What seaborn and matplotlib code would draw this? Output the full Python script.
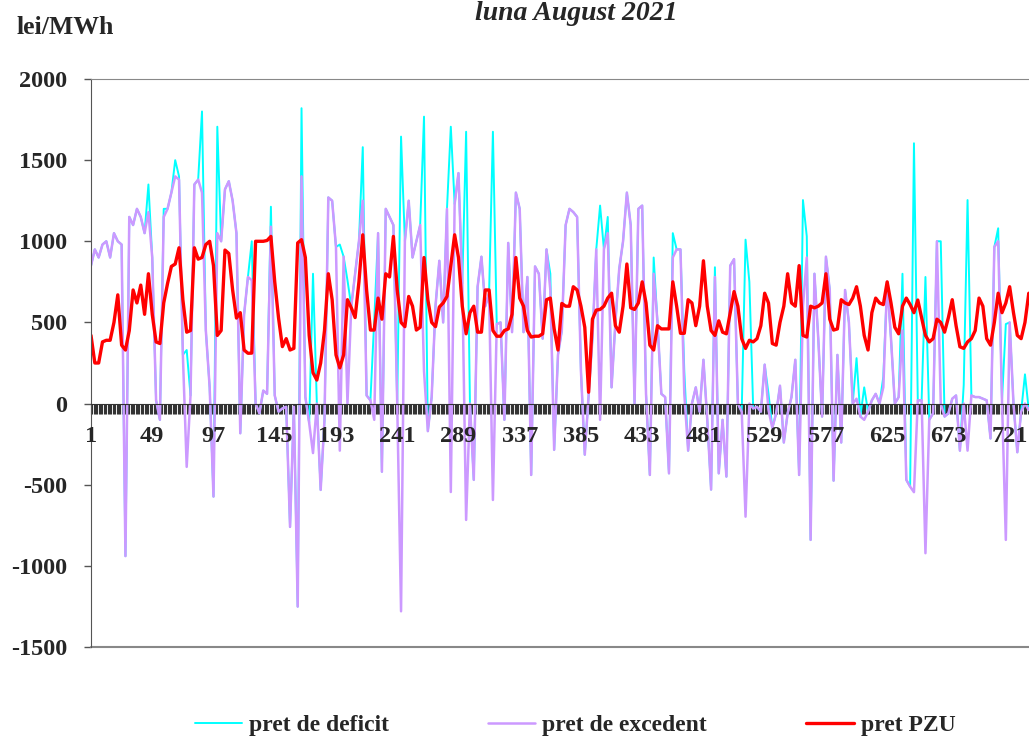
import numpy as np
import pandas as pd
import matplotlib
matplotlib.use("Agg")
import matplotlib.pyplot as plt
import seaborn as sns

# values read every 3 hours (8 per day, 31 days)
pret_pzu = [
    420, 250, 250, 380, 390, 390, 500, 670,
    360, 330, 450, 700, 620, 730, 550, 800,
    550, 380, 370, 620, 740, 845, 860, 960,
    640, 440, 450, 960, 890, 900, 980, 1000,
    850, 420, 450, 946, 925, 700, 527, 560,
    330, 310, 311, 1000, 1000, 1000, 1005, 1030,
    750, 527, 351, 400, 330, 340, 990, 1010,
    900, 420, 190, 145, 250, 450, 800, 640,
    300, 220, 300, 640, 590, 530, 750, 1040,
    700, 453, 453, 650, 520, 800, 780, 1030,
    700, 500, 474, 660, 600, 453, 470, 900,
    640, 500, 474, 595, 620, 660, 850, 1040,
    900, 600, 430, 560, 600, 440, 440, 700,
    700, 450, 415, 415, 450, 460, 550, 900,
    650, 600, 450, 410, 415, 415, 430, 640,
    650, 460, 330, 617, 600, 600, 720, 700,
    600, 470, 70, 520, 576, 580, 600, 650,
    680, 480, 440, 600, 860, 590, 580, 620,
    750, 620, 360, 330, 480, 460, 460, 460,
    750, 600, 433, 433, 640, 620, 480, 600,
    880, 600, 450, 420, 510, 440, 430, 560,
    690, 600, 400, 340, 390, 380, 400, 480,
    680, 620, 370, 360, 500, 600, 800, 620,
    600, 850, 420, 410, 600, 590, 600, 620,
    800, 520, 453, 460, 640, 620, 610, 650,
    720, 600, 420, 330, 560, 650, 620, 610,
    750, 620, 470, 430, 600, 650, 610, 560,
    638, 530, 420, 380, 400, 520, 500, 440,
    530, 640, 480, 350, 340, 380, 400, 450,
    650, 600, 400, 360, 500, 680, 560, 620,
    720, 560, 420, 400, 500, 680, 600, 550,
]

pret_excedent = [
    850, 950, 900, 980, 1000, 900, 1050, 1000,
    980, -940, 1150, 1100, 1200, 1150, 1050, 1180,
    900, 20, -100, 1150, 1200, 1300, 1400, 1380,
    300, -390, 50, 1350, 1380, 1300, 450, 100,
    -573, 1050, 1000, 1320, 1370, 1250, 1050, -183,
    550, 780, 760, 0, -60, 80, 60, 1090,
    50, -50, -30, -20, -760, -20, -1251, 1400,
    40, -120, -305, 0, -532, -100, 1270, 1250,
    965, -290, 905, 0, 600, 800, 1000, 1250,
    50, 20, -100, 1050, -420, 1200, 1150, 1100,
    0, -1280, 1000, 1250, 900, 1000, 1100, 200,
    -170, 40, 600, 880, 500, 1200, -545, 1230,
    1420, 740, -717, 0, -470, 720, 905, 600,
    680, -594, 490, 500, -100, 990, 440, 1300,
    1200, 440, 780, -440, 845, 800, 400, 950,
    700, -285, 300, 450, 1100, 1200, 1180, 1150,
    200, -315, 50, 400, 950, -100, 950, 1050,
    100, 500, 830, 1000, 1300, 1100, 0, 1200,
    1220, 60, -440, 800, 500, 60, 40, -430,
    900, 950, 950, 60, -290, 0, 100, -50,
    270, -100, -530, 780, -430, -100, -450, 850,
    890, 0, -50, -697, 0, -30, -20, -50,
    240, -40, -150, -60, 110, -240, -60, 40,
    270, -440, 600, 900, -840, 800, 400, -80,
    905, 700, -475, 300, -240, 700, 500, 0,
    30, -80, -100, -50, 20, 60, 0, 100,
    750, 400, 0, 40, 450, -470, -512, -546,
    20, 20, -922, -100, -60, 1000, 0, -80,
    -60, 30, 50, -290, 0, -290, 50, 40,
    40, 30, 20, -215, 965, 1000, 20, -840,
    500, 0, -300, -50, 0, -40, 0, 0,
]

pret_deficit = [
    850, 950, 900, 980, 1000, 900, 1050, 1000,
    980, -940, 1150, 1100, 1200, 1150, 1050, 1350,
    900, 20, -100, 1200, 1200, 1300, 1500, 1400,
    300, 330, 50, 1350, 1380, 1800, 450, 100,
    -573, 1706, 1000, 1320, 1370, 1250, 1050, -183,
    550, 780, 1000, 0, -60, 80, 60, 1213,
    50, -50, -30, -20, -760, -20, -1251, 1820,
    40, -120, 800, 0, -532, -100, 1270, 1250,
    965, 980, 905, 760, 600, 800, 1000, 1580,
    50, 20, 515, 1050, -420, 1200, 1150, 1100,
    0, 1645, 1000, 1250, 900, 1000, 1100, 1768,
    -170, 40, 600, 880, 500, 1200, 1706, 1230,
    1420, 740, 1675, 0, -470, 720, 905, 600,
    680, 1675, 490, 500, -100, 990, 440, 1300,
    1200, 440, 780, -440, 845, 800, 400, 950,
    800, -285, 300, 450, 1100, 1200, 1180, 1150,
    200, -315, 50, 400, 950, 1220, 950, 1150,
    100, 500, 830, 1000, 1300, 1100, 0, 1200,
    1220, 60, -440, 900, 500, 60, 40, -430,
    1050, 950, 950, 200, -290, 0, 100, -50,
    270, -100, -530, 840, -430, -100, -450, 850,
    890, 0, -50, 1010, 750, -30, -20, -50,
    240, 60, -150, -60, 110, -240, -60, 40,
    270, -440, 1254, 1030, -840, 800, 400, -80,
    905, 700, -475, 300, -240, 700, 500, 0,
    280, -80, 100, -50, 20, 60, 0, 166,
    750, 400, 0, 40, 800, -470, -512, 1604,
    20, 20, 780, -100, -60, 1000, 1000, -80,
    -60, 30, 50, -290, 115, 1254, 50, 40,
    40, 30, 20, -215, 965, 1080, 20, 490,
    500, 0, -300, -50, 180, -40, 0, 0,
]

ore = np.arange(1, 745, 3)
etichete_ore = list(range(1, 722, 48))

df = pd.DataFrame({
    "ora": ore,
    "pret de deficit": pret_deficit,
    "pret de excedent": pret_excedent,
    "pret PZU": pret_pzu,
})

sns.set_style("white")
plt.rcParams['font.family'] = ['Liberation Serif', 'DejaVu Serif']
plt.rcParams['font.weight'] = 'bold'

fig = plt.figure(figsize=(10.29, 7.38), dpi=100)
ax = fig.add_axes([91 / 1029, 91 / 738, 948 / 1029, 568 / 738])

sns.lineplot(data=df, x="ora", y="pret de deficit", color="#00FFFF", lw=1.4,
             label="pret de deficit", ax=ax)
sns.lineplot(data=df, x="ora", y="pret de excedent", color="#CC99FF", lw=1.8,
             label="pret de excedent", ax=ax)
sns.lineplot(data=df, x="ora", y="pret PZU", color="#FF0000", lw=2.4,
             label="pret PZU", ax=ax)

ax.set_xlim(1, 744)
ax.set_ylim(-1500, 2000)
ax.set_xlabel("")
ax.set_ylabel("")

# axa x trece prin zero, cu cate o gradatie pe ora
ax.spines['bottom'].set_position(('data', 0))
ax.spines['bottom'].set_color('#333333')
ax.spines['left'].set_color('#555555')
ax.spines['top'].set_color('#888888')
ax.spines['right'].set_visible(False)
ax.axhline(-1500, color='#888888', lw=1.5, clip_on=False)

ax.set_xticks(etichete_ore)
ax.set_xticks(range(1, 745), minor=True)
ax.set_xticklabels([])
ax.tick_params(axis='x', which='both', direction='out', length=7, width=0.8,
               color='#333333', bottom=True)
# etichetele orelor deasupra liniilor
for h in etichete_ore:
    ax.annotate(str(h), xy=(h, 0), xytext=(0, -28), textcoords='offset points',
                ha='center', va='baseline', fontsize=17.5, fontweight='bold',
                zorder=5, annotation_clip=False)

ax.set_yticks(range(-1500, 2001, 500))
ax.set_yticklabels([str(v) for v in range(-1500, 2001, 500)], fontsize=17.5, fontweight='bold')
ax.tick_params(axis='y', direction='out', length=5, width=1, color='#555555', pad=12, left=True)

ax.get_legend().remove()
handles, labels = ax.get_legend_handles_labels()
fig.legend(handles, labels, loc='center', bbox_to_anchor=(575 / 1029, 13 / 738), ncol=3,
           frameon=False, handlelength=2.0, handletextpad=0.3, columnspacing=4.2,
           prop={'size': 17, 'weight': 'bold'})

fig.text(17 / 1029, 1 - 27 / 738, 'lei/MWh', ha='left', va='center', fontsize=18.5, fontweight='bold')
fig.text(576 / 1029, 1 - 20 / 738, 'luna August 2021', ha='center', va='baseline', fontsize=20,
         fontweight='bold', style='italic')

fig.savefig('out.png', dpi=100)
